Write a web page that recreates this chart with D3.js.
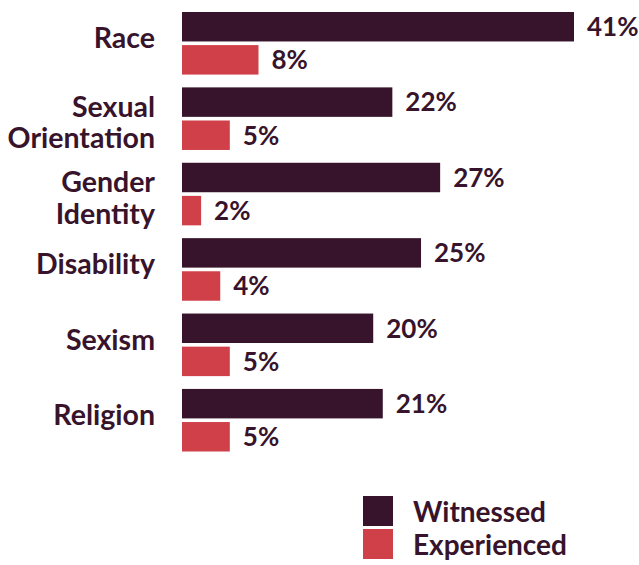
<!DOCTYPE html>
<html>
<head>
<meta charset="utf-8">
<script src="https://cdn.jsdelivr.net/npm/d3@7"></script>
<style>
  html, body { margin: 0; padding: 0; background: #fff; }
  svg { display: block; font-family: Lato, "Open Sans", sans-serif; font-weight: 700; }
</style>
</head>
<body>
<svg id="chart" width="639" height="565"></svg>
<script>
// Share of respondents who witnessed / experienced discrimination, by type
const categories = ["Race", "Sexual Orientation", "Gender Identity", "Disability", "Sexism", "Religion"];
const labelLines = [["Race"], ["Sexual", "Orientation"], ["Gender", "Identity"], ["Disability"], ["Sexism"], ["Religion"]];
const witnessed = [41, 22, 27, 25, 20, 21];
const experienced = [8, 5, 2, 4, 5, 5];
const seriesNames = ["Witnessed", "Experienced"];
const seriesColors = ["#37142b", "#cf4049"];

const svg = d3.select("#chart");
const textColor = "#37142b";

const x = d3.scaleLinear().domain([0, 41]).range([182, 574]);
const y = d3.scaleBand().domain(categories).range([12, 451.5]).paddingInner(0.17).paddingOuter(0);
const ySub = d3.scaleBand().domain(seriesNames).range([0, y.bandwidth()]).paddingInner(0.11);
const color = d3.scaleOrdinal().domain(seriesNames).range(seriesColors);

const rows = categories.map((c, i) => ({
  category: c,
  lines: labelLines[i],
  values: [
    { series: "Witnessed", value: witnessed[i] },
    { series: "Experienced", value: experienced[i] }
  ]
}));

const groups = svg.selectAll("g.group")
  .data(rows)
  .join("g")
  .attr("class", "group")
  .attr("transform", d => `translate(0,${y(d.category)})`);

groups.selectAll("rect")
  .data(d => d.values)
  .join("rect")
  .attr("x", x(0))
  .attr("y", d => ySub(d.series))
  .attr("width", d => x(d.value) - x(0))
  .attr("height", ySub.bandwidth())
  .attr("fill", d => color(d.series));

groups.selectAll("text.value")
  .data(d => d.values)
  .join("text")
  .attr("class", "value")
  .attr("x", d => x(d.value) + 13)
  .attr("y", d => ySub(d.series) + ySub.bandwidth() / 2)
  .attr("dy", "0.36em")
  .attr("font-size", 26)
  .attr("fill", textColor)
  .text(d => d.value + "%");

// Category labels, right-aligned against the bars
const labels = groups.append("text")
  .attr("class", "label")
  .attr("text-anchor", "end")
  .attr("x", 155)
  .attr("font-size", 28.5)
  .attr("fill", textColor);

labels.each(function(d) {
  const t = d3.select(this);
  const mid = y.bandwidth() / 2;
  const first = d.lines.length === 1 ? mid + 5 : mid - 2;
  d.lines.forEach((line, k) => {
    t.append("tspan")
      .attr("x", 155)
      .attr("y", first + k * 31.5)
      .text(line);
  });
});

// Legend
const legend = svg.append("g").attr("transform", "translate(363,496)");
const items = legend.selectAll("g")
  .data(seriesNames)
  .join("g")
  .attr("transform", (d, i) => `translate(0,${i * 33})`);
items.append("rect")
  .attr("width", 30)
  .attr("height", 30)
  .attr("fill", d => color(d));
items.append("text")
  .attr("x", 50)
  .attr("y", 26)
  .attr("font-size", 28)
  .attr("fill", textColor)
  .text(d => d);
</script>
</body>
</html>
